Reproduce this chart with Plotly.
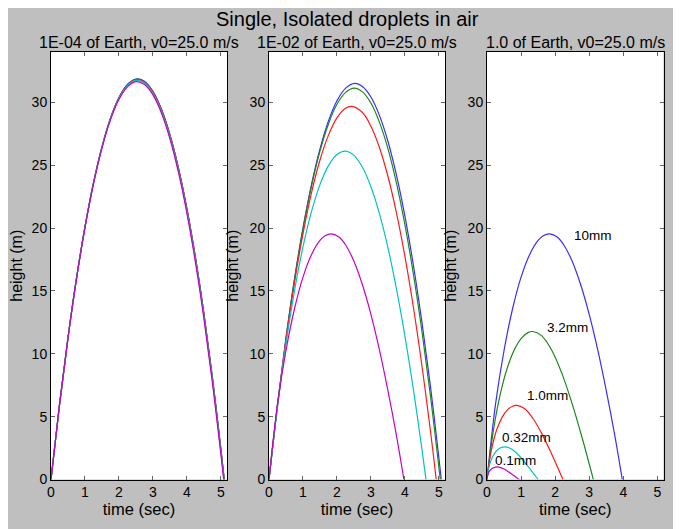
import plotly.graph_objects as go

# ---------------- data ----------------
fig_title = "Single, Isolated droplets in air"
panel_titles = ["1E-04 of Earth, v0=25.0 m/s", "1E-02 of Earth, v0=25.0 m/s", "1.0 of Earth, v0=25.0 m/s"]
colors = ["#3b2cff", "#1a8a1a", "#ff1a1a", "#00c4c4", "#c800c8"]
x_ticks = [0, 1, 2, 3, 4, 5]
y_ticks = [0, 5, 10, 15, 20, 25, 30]

# Panel 1 (1E-04 of Earth)
p1_t = [0, 0.25, 0.5, 0.75, 1.0, 1.25, 1.5, 1.75, 2.0, 2.25, 2.5, 2.75, 3.0, 3.25, 3.5, 3.75, 4.0, 4.25, 4.5, 4.75, 5.0]
p1_blue = [0, 5.94, 11.27, 15.99, 20.09, 23.59, 26.46, 28.73, 30.38, 31.42, 31.85, 31.67, 30.87, 29.46, 27.44, 24.80, 21.56, 17.70, 13.23, 8.15, 2.45]
p1_green = [0, 5.94, 11.27, 15.99, 20.09, 23.58, 26.45, 28.72, 30.36, 31.40, 31.83, 31.64, 30.84, 29.43, 27.40, 24.76, 21.51, 17.65, 13.18, 8.10, 2.40]
p1_red = [0, 5.94, 11.27, 15.98, 20.08, 23.57, 26.44, 28.70, 30.35, 31.38, 31.80, 31.61, 30.81, 29.39, 27.36, 24.72, 21.47, 17.61, 13.13, 8.05, 2.35]
p1_cyan = [0, 5.94, 11.27, 15.97, 20.07, 23.55, 26.41, 28.66, 30.30, 31.32, 31.74, 31.54, 30.72, 29.30, 27.26, 24.61, 21.35, 17.48, 13.00, 7.92, 2.22]
p1_magenta = [0, 5.94, 11.26, 15.96, 20.04, 23.51, 26.36, 28.60, 30.22, 31.23, 31.64, 31.42, 30.59, 29.15, 27.10, 24.44, 21.17, 17.29, 12.80, 7.70, 2.01]
p1_land = [5.10, 5.098, 5.096, 5.09, 5.082]

# Panel 2 (1E-02 of Earth)
p2_blue_t = [0, 0.25, 0.5, 0.75, 1.0, 1.25, 1.5, 1.75, 2.0, 2.25, 2.53, 2.75, 3.0, 3.25, 3.5, 3.75, 4.0, 4.25, 4.5, 4.75, 5.0, 5.07]
p2_blue_h = [0, 5.94, 11.25, 15.94, 20.01, 23.46, 26.30, 28.52, 30.12, 31.11, 31.50, 31.26, 30.42, 28.96, 26.90, 24.22, 20.94, 17.04, 12.54, 7.44, 1.73, 0]
p2_green_t = [0, 0.25, 0.5, 0.75, 1.0, 1.25, 1.5, 1.75, 2.0, 2.25, 2.51, 2.75, 3.0, 3.25, 3.5, 3.75, 4.0, 4.25, 4.5, 4.75, 5.0, 5.04]
p2_green_h = [0, 5.93, 11.22, 15.88, 19.91, 23.32, 26.11, 28.28, 29.84, 30.77, 31.12, 30.83, 29.94, 28.42, 26.32, 23.60, 20.27, 16.34, 11.81, 6.69, 0.97, 0]
p2_red_t = [0, 0.25, 0.5, 0.75, 1.0, 1.25, 1.5, 1.75, 2.0, 2.25, 2.43, 2.75, 3.0, 3.25, 3.5, 3.75, 4.0, 4.25, 4.5, 4.75, 4.85, 4.92]
p2_red_h = [0, 5.89, 11.11, 15.66, 19.54, 22.79, 25.41, 27.39, 28.76, 29.52, 29.68, 29.19, 28.10, 26.41, 24.12, 21.23, 17.75, 13.70, 9.07, 3.90, 1.67, 0]
p2_cyan_t = [0, 0.25, 0.5, 0.75, 1.0, 1.25, 1.5, 1.75, 2.0, 2.24, 2.5, 2.75, 3.0, 3.25, 3.5, 3.75, 4.0, 4.25, 4.5, 4.6, 4.62]
p2_cyan_h = [0, 5.80, 10.78, 15.00, 18.50, 21.30, 23.45, 24.96, 25.85, 26.12, 25.78, 24.83, 23.28, 21.14, 18.44, 15.18, 11.41, 7.15, 2.42, 0.41, 0]
p2_magenta_t = [0, 0.25, 0.5, 0.75, 1.0, 1.25, 1.5, 1.65, 1.83, 2.05, 2.25, 2.5, 2.75, 3.0, 3.25, 3.5, 3.75, 3.97]
p2_magenta_h = [0, 5.99, 10.26, 13.58, 16.10, 17.88, 19.01, 19.38, 19.54, 19.30, 18.67, 17.36, 15.49, 13.13, 10.30, 7.07, 3.51, 0]

# Panel 3 (1.0 of Earth)
p3_10mm_t = [0, 0.25, 0.5, 0.75, 1.0, 1.25, 1.5, 1.65, 1.83, 2.05, 2.25, 2.5, 2.75, 3.0, 3.25, 3.5, 3.75, 3.97]
p3_10mm_h = [0, 5.99, 10.26, 13.58, 16.10, 17.88, 19.01, 19.38, 19.54, 19.30, 18.67, 17.36, 15.49, 13.13, 10.30, 7.07, 3.51, 0]
p3_3mm_t = [0, 0.2, 0.4, 0.6, 0.8, 1.0, 1.2, 1.34, 1.6, 1.9, 2.2, 2.5, 2.8, 3.1, 3.12]
p3_3mm_h = [0, 4.10, 6.91, 8.91, 10.31, 11.21, 11.68, 11.77, 11.44, 10.28, 8.42, 6.02, 3.24, 0.21, 0]
p3_1mm_t = [0, 0.1, 0.2, 0.3, 0.45, 0.6, 0.75, 0.87, 1.1, 1.35, 1.6, 1.85, 2.1, 2.23]
p3_1mm_h = [0, 1.93, 3.18, 4.07, 4.98, 5.54, 5.83, 5.90, 5.64, 4.85, 3.69, 2.30, 0.80, 0]
p3_032mm_t = [0, 0.05, 0.1, 0.15, 0.2, 0.3, 0.4, 0.53, 0.65, 0.8, 0.95, 1.1, 1.25, 1.4, 1.5]
p3_032mm_h = [0, 0.88, 1.38, 1.73, 1.99, 2.33, 2.52, 2.60, 2.53, 2.26, 1.87, 1.39, 0.88, 0.35, 0]
p3_01mm_t = [0, 0.02, 0.05, 0.1, 0.15, 0.2, 0.3, 0.4, 0.5, 0.6, 0.7, 0.8, 0.9, 0.948]
p3_01mm_h = [0, 0.32, 0.56, 0.76, 0.88, 0.95, 1.0, 0.95, 0.83, 0.66, 0.48, 0.29, 0.09, 0]

size_labels = ["10mm", "3.2mm", "1.0mm", "0.32mm", "0.1mm"]
label_x = [2.49, 1.69, 1.11, 0.37, 0.19]
label_y = [19.4, 12.1, 6.65, 3.38, 1.52]

# ---------------- figure ----------------
W, H = 681, 529
OFF = 8  # page body margin offset
FONT = "Liberation Sans, Arial, Helvetica, sans-serif"
fig = go.Figure()

def add(t, h, color, ax):
    fig.add_trace(go.Scatter(x=t, y=h, mode="lines", line=dict(color=color, width=1.2, shape="spline", smoothing=1.0),
                             xaxis="x" + ax, yaxis="y" + ax, showlegend=False, hoverinfo="skip"))

for vals, land, c in zip([p1_blue, p1_green, p1_red, p1_cyan, p1_magenta], p1_land, colors):
    add(p1_t + [land], vals + [0], c, "")

p2 = [(p2_blue_t, p2_blue_h), (p2_green_t, p2_green_h), (p2_red_t, p2_red_h),
      (p2_cyan_t, p2_cyan_h), (p2_magenta_t, p2_magenta_h)]
for (t, h), c in zip(p2, colors):
    add(t, h, c, "2")

p3 = [(p3_10mm_t, p3_10mm_h), (p3_3mm_t, p3_3mm_h), (p3_1mm_t, p3_1mm_h),
      (p3_032mm_t, p3_032mm_h), (p3_01mm_t, p3_01mm_h)]
for (t, h), c in zip(p3, colors):
    add(t, h, c, "3")

px_x = [[51, 227], [269, 445], [487, 663.5]]
x_domains = [[(a - OFF) / W, (b - OFF) / W] for a, b in px_x]
y_domain = [1 - (479.5 - OFF) / H, 1 - (52 - OFF) / H]

layout = dict(width=W, height=H, margin=dict(l=0, r=0, t=0, b=0),
              paper_bgcolor="#bfbfbf", plot_bgcolor="#ffffff",
              font=dict(family=FONT, size=14, color="#000000"), showlegend=False)

axis_common = dict(showline=True, linecolor="#000000", linewidth=1, mirror="allticks",
                   ticks="inside", ticklen=4, tickcolor="#666666", tickwidth=1, automargin=False,
                   showgrid=False, zeroline=False, tickfont=dict(size=14, family=FONT))

for i, ax in enumerate(["", "2", "3"]):
    layout["xaxis" + ax] = dict(axis_common, domain=x_domains[i], range=[0, 5.18],
                                tickvals=x_ticks, anchor="y" + ax,
                                title=dict(text="time (sec)", font=dict(size=16.5), standoff=4))
    layout["yaxis" + ax] = dict(axis_common, domain=y_domain, range=[0, 34],
                                tickvals=y_ticks, anchor="x" + ax,
                                title=dict(text="height (m)", font=dict(size=16), standoff=7))

annotations = [dict(text=fig_title, x=(347 - OFF) / W, y=1 - (19 - OFF) / H, xref="paper", yref="paper",
                    showarrow=False, font=dict(size=20, family=FONT), xanchor="center", yanchor="middle")]
for i, pt in enumerate(panel_titles):
    annotations.append(dict(text=pt, x=sum(x_domains[i]) / 2, y=1 - (43 - OFF) / H, xref="paper", yref="paper",
                            showarrow=False, font=dict(size=16, family=FONT), xanchor="center", yanchor="middle"))
for lab, lx, ly in zip(size_labels, label_x, label_y):
    annotations.append(dict(text=lab, x=lx, y=ly, xref="x3", yref="y3", showarrow=False,
                            font=dict(size=13.5, family=FONT), xanchor="left", yanchor="middle"))
layout["annotations"] = annotations

fig.update_layout(**layout)
fig.write_html("out.html")
